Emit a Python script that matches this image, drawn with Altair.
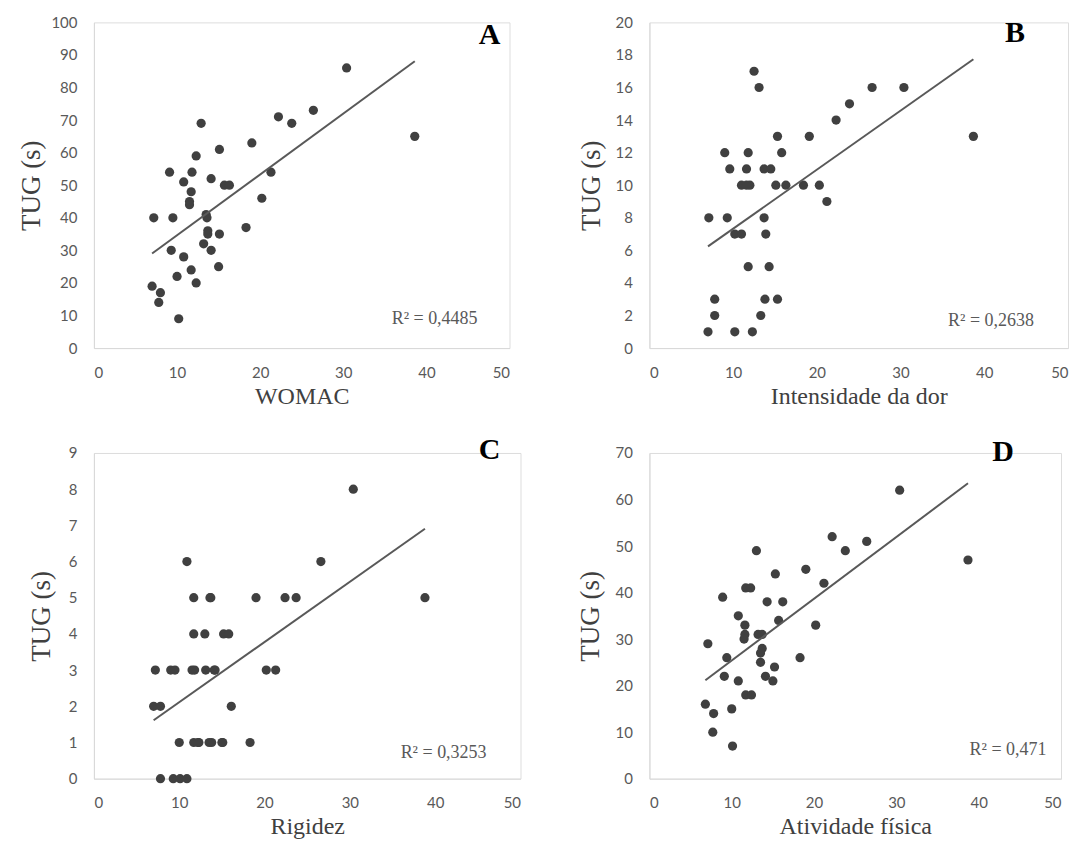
import altair as alt
import pandas as pd

# ---------------- data ----------------
# Panel A: WOMAC
a_x = [12.9, 19.0, 15.1, 12.3, 9.1, 11.8, 14.1, 10.8, 15.7, 16.3, 11.7, 11.5, 11.5, 7.2, 9.5,
       13.5, 13.6, 13.7, 13.7, 15.1, 18.3, 20.2, 13.2, 14.1, 9.3, 10.8, 11.7, 15.0, 10.0, 12.3,
       7.0, 8.0, 7.8, 10.2, 30.4, 22.2, 23.8, 26.4, 38.6, 21.3]
a_y = [69, 63, 61, 59, 54, 54, 52, 51, 50, 50, 48, 45, 44, 40, 40,
       41, 40, 36, 35, 35, 37, 46, 32, 30, 30, 28, 24, 25, 22, 20,
       19, 17, 14, 9, 86, 71, 69, 73, 65, 54]

# Panel B: Intensidade da dor
b_x = [12.5, 13.1, 15.3, 19.1, 9.0, 11.8, 15.8, 9.6, 11.6, 13.7, 14.5, 11.0, 11.6, 12.0, 15.1,
       16.3, 18.4, 20.3, 7.1, 9.3, 13.7, 10.2, 11.0, 13.9, 11.8, 14.3, 7.8, 13.8, 15.3, 7.8,
       13.3, 7.0, 10.2, 12.3, 26.6, 30.4, 23.9, 22.3, 38.7, 21.2]
b_y = [17, 16, 13, 13, 12, 12, 12, 11, 11, 11, 11, 10, 10, 10, 10,
       10, 10, 10, 8, 8, 8, 7, 7, 7, 5, 5, 3, 3, 3, 2,
       2, 1, 1, 1, 16, 16, 15, 14, 13, 9]

# Panel C: Rigidez
c_x = [10.9, 11.7, 13.6, 19.0, 22.4, 23.7, 38.8, 11.7, 13.0, 15.2, 15.8, 7.2, 9.0, 9.5, 11.8,
       13.1, 14.2, 20.2, 21.3, 7.0, 7.8, 16.1, 10.0, 11.7, 12.2, 13.8, 15.1, 18.3, 7.8, 9.3,
       10.1, 10.9, 30.4, 26.6, 11.5, 12.3, 13.7, 14.1, 13.5, 15.0]
c_y = [6, 5, 5, 5, 5, 5, 5, 4, 4, 4, 4, 3, 3, 3, 3,
       3, 3, 3, 3, 2, 2, 2, 1, 1, 1, 1, 1, 1, 0, 0,
       0, 0, 8, 6, 3, 1, 5, 3, 1, 1]

# Panel D: Atividade física
d_x = [13.0, 15.3, 19.0, 8.9, 11.7, 12.3, 14.3, 16.2, 10.8, 11.6, 11.6, 11.5, 13.7, 15.7, 7.1,
       13.7, 13.5, 13.5, 9.4, 18.3, 15.2, 9.1, 14.1, 15.0, 10.8, 11.7, 12.4, 6.8, 7.8, 10.0,
       7.7, 10.1, 30.4, 22.2, 23.8, 26.4, 38.7, 21.2, 20.2, 13.2]
d_y = [49, 44, 45, 39, 41, 41, 38, 38, 35, 33, 31, 30, 31, 34, 29,
       28, 27, 25, 26, 26, 24, 22, 22, 21, 21, 18, 18, 16, 14, 15,
       10, 7, 62, 52, 49, 51, 47, 42, 33, 31]

x_ticks = [0, 10, 20, 30, 40, 50]
y_ticks_a = list(range(0, 101, 10))
y_ticks_b = list(range(0, 21, 2))
y_ticks_c = list(range(0, 10, 1))
y_ticks_d = list(range(0, 71, 10))

titles_x = ["WOMAC", "Intensidade da dor", "Rigidez", "Atividade física"]
letters = ["A", "B", "C", "D"]
r2_texts = ["R² = 0,4485", "R² = 0,2638", "R² = 0,3253", "R² = 0,471"]

LABEL_FONT = "Lato"
SERIF = "Liberation Serif"
GREY = "#595959"


def panel(xs, ys, yticks, xtitle, letter, r2, width, height, min_ext, letter_pos, r2_pos):
    df = pd.DataFrame({"x": xs, "y": ys})
    xenc = alt.X(
        "x:Q",
        scale=alt.Scale(domain=[0, 50], nice=False, zero=True),
        axis=alt.Axis(values=x_ticks, title=xtitle, grid=False, ticks=False, tickSize=0,
                      labelPadding=17, titlePadding=4, domainColor="#d9d9d9",
                      labelFont=LABEL_FONT, labelFontSize=15, labelColor=GREY,
                      titleFont=SERIF, titleFontSize=24, titleFontWeight="normal",
                      titleColor="#404040"),
    )
    yenc = alt.Y(
        "y:Q",
        scale=alt.Scale(domain=[yticks[0], yticks[-1]], nice=False),
        axis=alt.Axis(values=yticks, title="TUG (s)", grid=False, ticks=False, tickSize=0,
                      labelPadding=17, titlePadding=0, minExtent=min_ext,
                      domainColor="#d9d9d9",
                      labelFont=LABEL_FONT, labelFontSize=15, labelColor=GREY,
                      titleFont=SERIF, titleFontSize=27, titleFontWeight="normal",
                      titleColor="#404040"),
    )
    base = alt.Chart(df)
    pts = base.mark_circle(size=85, color="#404040", opacity=1).encode(x=xenc, y=yenc)
    line = base.transform_regression("x", "y").mark_line(
        color=GREY, strokeWidth=2).encode(x=xenc, y=yenc)
    lt = alt.Chart(pd.DataFrame({"t": [letter]})).mark_text(
        font=SERIF, fontWeight="bold", fontSize=30, color="black",
        align="center", baseline="middle").encode(
        x=alt.value(letter_pos[0]), y=alt.value(letter_pos[1]), text="t:N")
    rt = alt.Chart(pd.DataFrame({"t": [r2]})).mark_text(
        font=SERIF, fontSize=18, color=GREY, align="center", baseline="middle").encode(
        x=alt.value(r2_pos[0]), y=alt.value(r2_pos[1]), text="t:N")
    return alt.layer(pts, line, lt, rt).properties(width=width, height=height)


pa = panel(a_x, a_y, y_ticks_a, titles_x[0], letters[0], r2_texts[0], 416, 326, 48,
           (396, 13), (341, 297))
pb = panel(b_x, b_y, y_ticks_b, titles_x[1], letters[1], r2_texts[1], 419, 326, 43.5,
           (366, 11), (342, 299))
pc = panel(c_x, c_y, y_ticks_c, titles_x[2], letters[2], r2_texts[2], 427, 326, 38.5,
           (396, -3), (350, 300))
pd_ = panel(d_x, d_y, y_ticks_d, titles_x[3], letters[3], r2_texts[3], 412, 326, 45,
            (354, -1), (359, 297))

chart = alt.concat(
    pa, pb, pc, pd_, columns=2, bounds="flush", align="none",
    spacing={"row": 105, "column": 129},
).properties(
    padding={"left": 9, "top": 6, "right": 5, "bottom": 5}
).configure_view(stroke="transparent", strokeWidth=0).configure(background="white")

chart.save("out.html", embed_options={"renderer": "svg", "actions": False})
